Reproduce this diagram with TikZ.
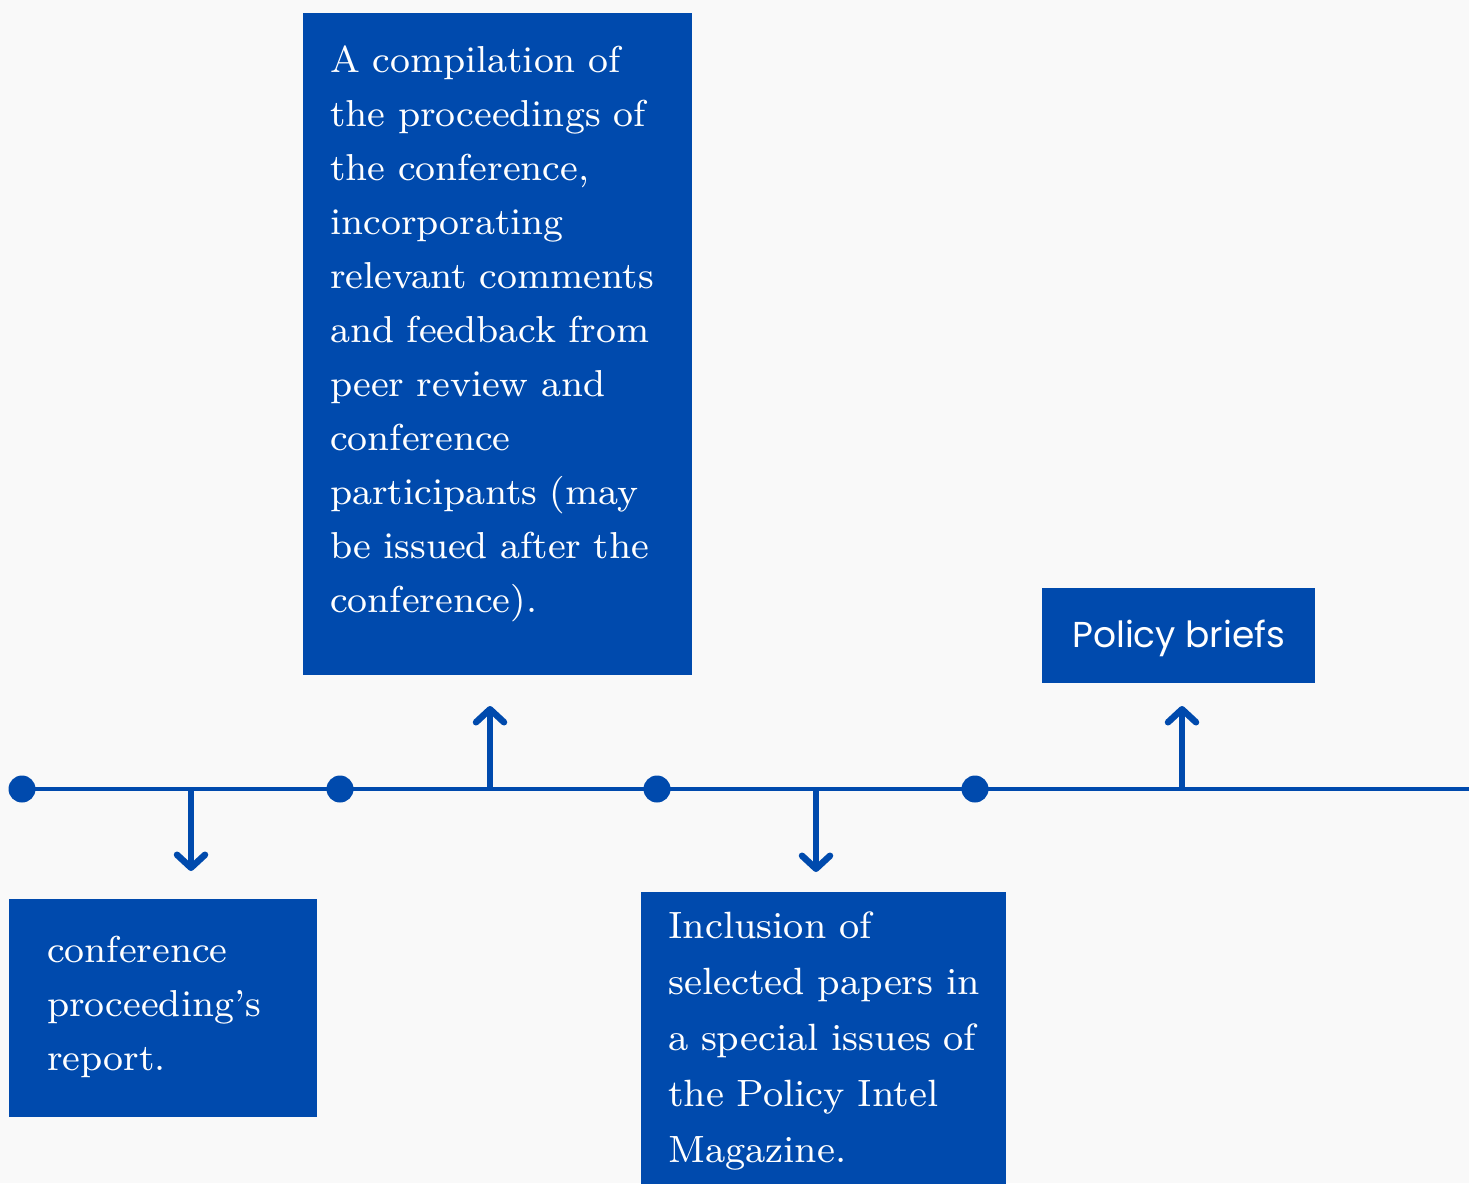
\documentclass[tikz,border=0pt]{standalone}
\usepackage{fontspec}
\newfontfamily\briefsfont{Poppins}
\newfontfamily\bodyfont{lmroman8-regular.otf}
\usetikzlibrary{arrows.meta}
\definecolor{boxblue}{RGB}{0,74,173}
\definecolor{bggrey}{RGB}{249,249,249}
\tikzset{
  x=1pt, y=-1pt,
  bluebox/.style={fill=boxblue, draw=none, inner sep=0pt, anchor=north west},
  boxtext/.style={text=white, anchor=base west, inner sep=0pt, text width=400pt, align=left,
    font=\bodyfont\fontsize{37.5}{54}\selectfont},
  tline/.style={draw=boxblue, line width=4pt},
  tdot/.style={circle, fill=boxblue, minimum size=27pt, inner sep=0pt},
  tarrow/.style={draw=boxblue, line width=6pt,
    -{Straight Barb[length=13pt, width=28pt, line width=6.5pt, line cap=round, line join=round]}},
}
\begin{document}
\begin{tikzpicture}
\fill[bggrey] (0,0) rectangle (1469,1183);
\useasboundingbox (0,0) rectangle (1469,1183);

% timeline
\node[tdot] (d1) at (22,789) {};
\node[tdot] (d2) at (340,789) {};
\node[tdot] (d3) at (657,789) {};
\node[tdot] (d4) at (975,789) {};
\coordinate (tend) at (1469,789);
\draw[tline] (d1.center) -- (d2.center) -- (d3.center) -- (d4.center) -- (tend);

% arrow coordinates
\coordinate (a1s) at (191,789);  \coordinate (a1e) at (191,871);
\coordinate (a2s) at (490,789);  \coordinate (a2e) at (490,706);
\coordinate (a3s) at (816,789);  \coordinate (a3e) at (816,872);
\coordinate (a4s) at (1182,789); \coordinate (a4e) at (1182,706);
\draw[tarrow] (a1s) -- (a1e);
\draw[tarrow] (a2s) -- (a2e);
\draw[tarrow] (a3s) -- (a3e);
\draw[tarrow] (a4s) -- (a4e);

% boxes
\node[bluebox, minimum width=389pt, minimum height=662pt] (b1) at (303,13) {};
\node[boxtext] (t1) at (330,72) {A compilation of\\the proceedings of\\the conference,\\incorporating\\relevant comments\\and feedback from\\peer review and\\conference\\participants (may\\be issued after the\\conference).};

\node[bluebox, minimum width=273pt, minimum height=95pt] (b2) at (1042,588) {};
\node[text=white, inner sep=0pt, font=\briefsfont\fontsize{36}{40}\selectfont] (t2) at ([yshift=-3pt]b2.center) {Policy briefs};

\node[bluebox, minimum width=308pt, minimum height=218pt] (b3) at (9,899) {};
\node[boxtext] (t3) at (47,962) {conference\\proceeding’s\\report.};

\node[bluebox, minimum width=365pt, minimum height=300pt] (b4) at (641,892) {};
\node[boxtext, font=\bodyfont\fontsize{38}{56}\selectfont] (t4) at (668,938) {Inclusion of\\selected papers in\\a special issues of\\the Policy Intel\\Magazine.};
\end{tikzpicture}
\end{document}
